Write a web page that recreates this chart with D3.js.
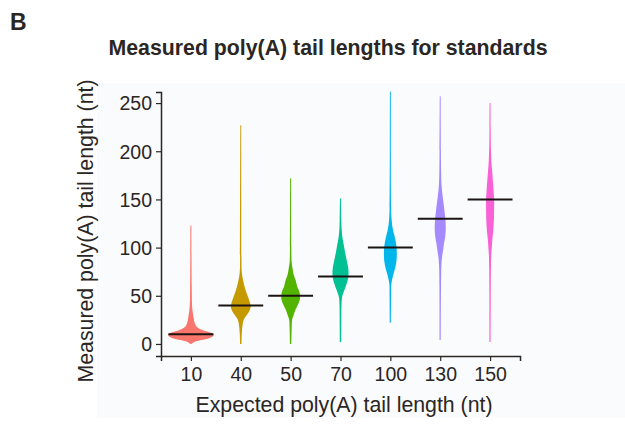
<!DOCTYPE html>
<html>
<head>
<meta charset="utf-8">
<script src="https://cdn.jsdelivr.net/npm/d3@7"></script>
<style>
  body { margin: 0; background: #fff; }
  text { font-family: "Liberation Sans", Arial, sans-serif; }
</style>
</head>
<body>
<div id="chart"></div>
<script>
// expected tail lengths (categories)
const categories = ["10", "40", "50", "70", "100", "130", "150"];
const expected = [10, 40, 50, 70, 100, 130, 150];
const colors = ["#F8766D", "#C49A00", "#53B400", "#00C094", "#00B6EB", "#A58AFF", "#FB61D7"];
const yTicks = [0, 50, 100, 150, 200, 250];

// density profiles: [tail length (nt), relative density]
const dens10 = [[0,2],[2,15],[4,45],[6,80],[8,96],[10,100],[12,85],[14,55],[16,35],[18,24],[22,16],[27,12],[33,8],[40,5],[60,3.5],[123,2]];
const dens40 = [[0,3],[10,4.3],[20,8],[25,13],[30,26],[34,37],[38,43],[42,41],[48,33],[55,22],[65,11],[75,4.3],[90,3],[227,2]];
const dens50 = [[0,3],[15,4.3],[25,6.5],[30,13],[35,20],[40,30],[45,39],[50,41],[55,37],[60,28],[66,22],[72,13],[78,8.7],[85,4.3],[100,3],[172,2]];
const dens70 = [[2,3],[20,3.5],[40,4.3],[48,6.5],[52,11],[56,17],[62,26],[68,33],[74,35],[80,33],[88,26],[95,20],[102,15],[110,8.7],[118,5.2],[130,3.5],[151,2]];
const dens100 = [[22,2.6],[50,3.5],[62,4.3],[68,8.7],[72,13],[78,20],[85,26],[92,28],[100,27],[108,22],[115,15],[122,8.7],[130,5.2],[140,3.5],[262,2]];
const dens130 = [[4,2.6],[60,3.5],[80,4.8],[90,7.8],[98,13],[105,17],[112,22],[120,24],[128,23],[135,20],[145,15],[155,9.6],[165,5.7],[178,3.9],[200,3],[257,2]];
const dens150 = [[2,2.6],[50,3],[80,3.9],[92,5.2],[100,7.4],[108,9.6],[118,14],[128,16.5],[138,17.4],[150,17.4],[160,15],[170,12],[180,8.7],[190,5.7],[205,3.5],[225,2.6],[250,2]];
const densities = [dens10, dens40, dens50, dens70, dens100, dens130, dens150];

const width = 625, height = 424;
const svg = d3.select("#chart").append("svg")
    .attr("width", width)
    .attr("height", height);

// faint panel backdrop
svg.append("rect")
    .attr("x", 97).attr("y", 83)
    .attr("width", width - 97).attr("height", 335)
    .attr("fill", "#fafbfd");

const x = d3.scalePoint().domain(categories).range([161, 520]).padding(0.6);
const y = d3.scaleLinear().domain([-12.5, 261.5]).range([356, 92]);
const w = d3.scaleLinear().domain([0, 100]).range([0, 23]);

// violins
categories.forEach((c, i) => {
    const cx = x(c);
    const area = d3.area()
        .curve(d3.curveCatmullRom)
        .y(d => y(d[0]))
        .x0(d => cx - w(d[1]))
        .x1(d => cx + w(d[1]));
    svg.append("path")
        .datum(densities[i])
        .attr("d", area)
        .attr("fill", colors[i]);
});

// expected length marks
svg.append("g")
    .selectAll("line")
    .data(categories)
    .enter().append("line")
    .attr("x1", d => x(d) - x.step() * 0.45)
    .attr("x2", d => x(d) + x.step() * 0.45)
    .attr("y1", (d, i) => y(expected[i]))
    .attr("y2", (d, i) => y(expected[i]))
    .attr("stroke", "#1a1412")
    .attr("stroke-width", 2);

// axes
const yAxis = svg.append("g")
    .attr("transform", "translate(161,0)")
    .call(d3.axisLeft(y).tickValues(yTicks).tickSize(5).tickPadding(4));
const xAxis = svg.append("g")
    .attr("transform", "translate(0,356)")
    .call(d3.axisBottom(x).tickSize(5).tickPadding(6));

[yAxis, xAxis].forEach(a => {
    a.select(".domain").attr("stroke", "#2b2623").attr("stroke-width", 1.5);
    a.selectAll(".tick line").attr("stroke", "#2b2623").attr("stroke-width", 1.2);
    a.selectAll(".tick text")
        .attr("fill", "#2b2623")
        .style("font-size", "19.5px");
});
yAxis.selectAll(".tick text").attr("dy", "0.35em");

// titles
svg.append("text")
    .attr("x", 10).attr("y", 30)
    .attr("fill", "#2b2623")
    .style("font-size", "23px")
    .style("font-weight", "bold")
    .text("B");

svg.append("text")
    .attr("x", 328).attr("y", 55)
    .attr("text-anchor", "middle")
    .attr("fill", "#2b2623")
    .style("font-size", "21.3px")
    .style("font-weight", "bold")
    .text("Measured poly(A) tail lengths for standards");

svg.append("text")
    .attr("x", 344).attr("y", 412)
    .attr("text-anchor", "middle")
    .attr("fill", "#2b2623")
    .style("font-size", "21.3px")
    .text("Expected poly(A) tail length (nt)");

svg.append("text")
    .attr("transform", "translate(93,231) rotate(-90)")
    .attr("text-anchor", "middle")
    .attr("fill", "#2b2623")
    .style("font-size", "21.3px")
    .text("Measured poly(A) tail length (nt)");
</script>
</body>
</html>
